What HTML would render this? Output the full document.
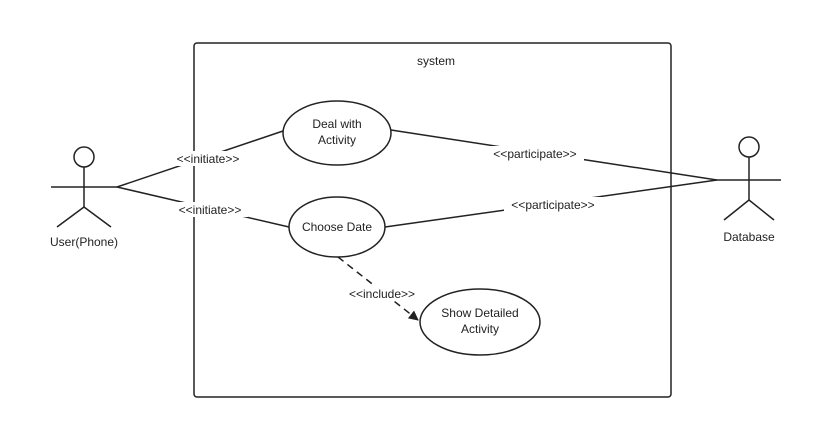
<html><head><style>body{margin:0;background:#fff}</style></head><body>
<svg width="832" height="438" xmlns="http://www.w3.org/2000/svg" font-family="Liberation Sans, Arial, sans-serif" font-size="12" fill="none" stroke="#222" stroke-width="1.5">
<defs><marker id="a" markerWidth="10" markerHeight="10" refX="9" refY="5" orient="auto" markerUnits="userSpaceOnUse"><path d="M0,0 L10,5 L0,10 z" fill="#222" stroke="none"/></marker></defs>
<rect x="194" y="43" width="477" height="354" rx="3"/>
<text x="436" y="65" fill="#222" stroke="none" text-anchor="middle">system</text>
<!-- user -->
<circle cx="84" cy="157" r="10"/>
<line x1="84" y1="167" x2="84" y2="207"/><line x1="51" y1="187" x2="117" y2="187"/>
<line x1="84" y1="207" x2="57" y2="227"/><line x1="84" y1="207" x2="111" y2="227"/>
<text x="84" y="246" fill="#222" stroke="none" text-anchor="middle">User(Phone)</text>
<!-- db -->
<circle cx="749" cy="147" r="10"/>
<line x1="749" y1="157" x2="749" y2="200"/><line x1="717" y1="180" x2="781" y2="180"/>
<line x1="749" y1="200" x2="724" y2="220"/><line x1="749" y1="200" x2="774" y2="220"/>
<text x="749" y="241" fill="#222" stroke="none" text-anchor="middle">Database</text>
<!-- lines -->
<line x1="117" y1="187" x2="283" y2="131"/>
<line x1="117" y1="187" x2="289" y2="227"/>
<line x1="391" y1="130" x2="717" y2="180"/>
<line x1="385" y1="227" x2="717" y2="180"/>
<line x1="338" y1="257" x2="418" y2="320" stroke-dasharray="7,5" marker-end="url(#a)"/>
<!-- ellipses -->
<ellipse cx="337" cy="133" rx="54" ry="32" fill="#fff"/>
<ellipse cx="337" cy="227" rx="48" ry="30" fill="#fff"/>
<ellipse cx="480" cy="322" rx="60" ry="33" fill="#fff"/>
<g fill="#222" stroke="none" text-anchor="middle">
<text x="337" y="128">Deal with</text><text x="337" y="144">Activity</text>
<text x="337" y="231">Choose Date</text>
<text x="480" y="317">Show Detailed</text><text x="480" y="333">Activity</text>
</g>
<g stroke="none">
<rect x="170" y="151" width="76" height="15" fill="#fff"/>
<rect x="172" y="202" width="76" height="15" fill="#fff"/>
<rect x="343" y="286" width="78" height="15" fill="#fff"/>
<rect x="486" y="146" width="98" height="15" fill="#fff"/>
<rect x="504" y="197" width="98" height="15" fill="#fff"/>
</g>
<g fill="#222" stroke="none" text-anchor="middle">
<text x="208" y="163">&lt;&lt;initiate&gt;&gt;</text>
<text x="210" y="214">&lt;&lt;initiate&gt;&gt;</text>
<text x="382" y="298">&lt;&lt;include&gt;&gt;</text>
<text x="535" y="158">&lt;&lt;participate&gt;&gt;</text>
<text x="553" y="209">&lt;&lt;participate&gt;&gt;</text>
</g>
</svg>
</body></html>
